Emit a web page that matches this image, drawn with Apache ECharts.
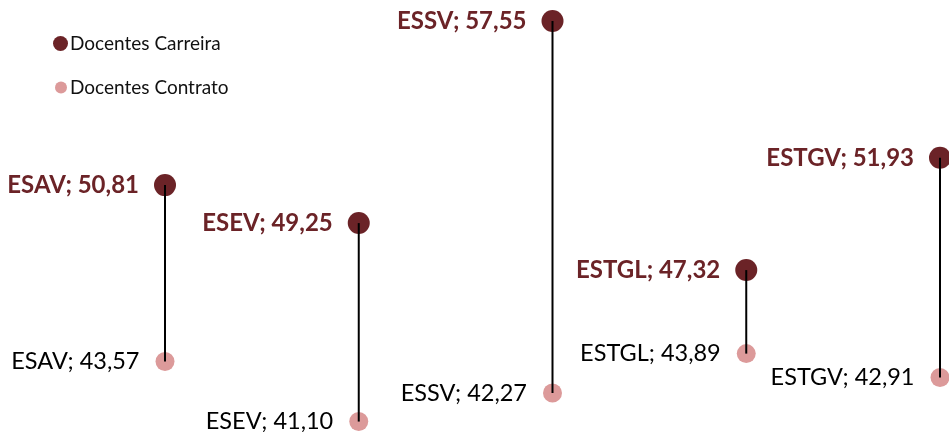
<!DOCTYPE html>
<html>
<head>
<meta charset="utf-8">
<script src="https://cdn.jsdelivr.net/npm/echarts@6/dist/echarts.min.js"></script>
<style>
html, body { margin: 0; padding: 0; background: #fff; }
#main { width: 949px; height: 432px; }
</style>
</head>
<body>
<div id="main"></div>
<script>
var escolas = ['ESAV', 'ESEV', 'ESSV', 'ESTGL', 'ESTGV'];
var carreira = [50.81, 49.25, 57.55, 47.32, 51.93];
var contrato = [43.57, 41.10, 42.27, 43.89, 42.91];

var corCarreira = '#6B2327';
var corContrato = '#DC9A9A';
var fonte = 'Lato, "Open Sans", sans-serif';

function fmt(v){
	return v.toFixed(2).replace('.', ',');
}

var myChart = echarts.init(document.getElementById('main'));

var dadosCarreira = [];
var dadosContrato = [];
var dadosLinhas = [];
for (var i = 0; i < escolas.length; i++){
	dadosCarreira.push({ name: escolas[i], value: [i, carreira[i]] });
	dadosContrato.push({ name: escolas[i], value: [i, contrato[i]] });
	dadosLinhas.push([i, carreira[i], contrato[i]]);
}

var option = {
	animation: false,
	grid: { left: 165, right: 9, top: 10, bottom: 8 },
	xAxis: { type: 'value', min: 0, max: 4, show: false },
	yAxis: { type: 'value', min: 41, max: 58, show: false },
	legend: [
		{
			left: 48, top: 29,
			icon: 'circle', itemWidth: 15, itemHeight: 15, itemGap: 4,
			textStyle: { fontFamily: fonte, fontSize: 19, color: '#111', padding: [0, 0, 0, -3] },
			data: ['Docentes Carreira']
		},
		{
			left: 50, top: 73,
			icon: 'circle', itemWidth: 12, itemHeight: 12, itemGap: 4,
			textStyle: { fontFamily: fonte, fontSize: 19, color: '#111', padding: [0, 0, 0, -2] },
			data: ['Docentes Contrato']
		}
	],
	series: [
		{
			name: 'Docentes Carreira',
			type: 'scatter',
			symbolSize: 22,
			itemStyle: { color: corCarreira, opacity: 1 },
			label: {
				show: true, position: 'left', distance: 15,
				fontFamily: fonte, fontSize: 24, fontWeight: 'bold', color: corCarreira,
				formatter: function(p){ return p.name + '; ' + fmt(p.value[1]); }
			},
			data: dadosCarreira,
			z: 2
		},
		{
			name: 'Docentes Contrato',
			type: 'scatter',
			symbolSize: 19,
			itemStyle: { color: corContrato, opacity: 1 },
			label: {
				show: true, position: 'left', distance: 16,
				fontFamily: fonte, fontSize: 23.5, color: '#000',
				formatter: function(p){ return p.name + '; ' + fmt(p.value[1]); }
			},
			data: dadosContrato,
			z: 2
		},
		{
			type: 'custom',
			silent: true,
			z: 3,
			renderItem: function(params, api){
				var a = api.coord([api.value(0), api.value(1)]);
				var b = api.coord([api.value(0), api.value(2)]);
				return {
					type: 'line',
					shape: { x1: a[0], y1: a[1], x2: b[0], y2: b[1] },
					style: { stroke: '#000', lineWidth: 2 }
				};
			},
			encode: { x: 0, y: [1, 2] },
			data: dadosLinhas
		}
	]
};

myChart.setOption(option);
</script>
</body>
</html>
